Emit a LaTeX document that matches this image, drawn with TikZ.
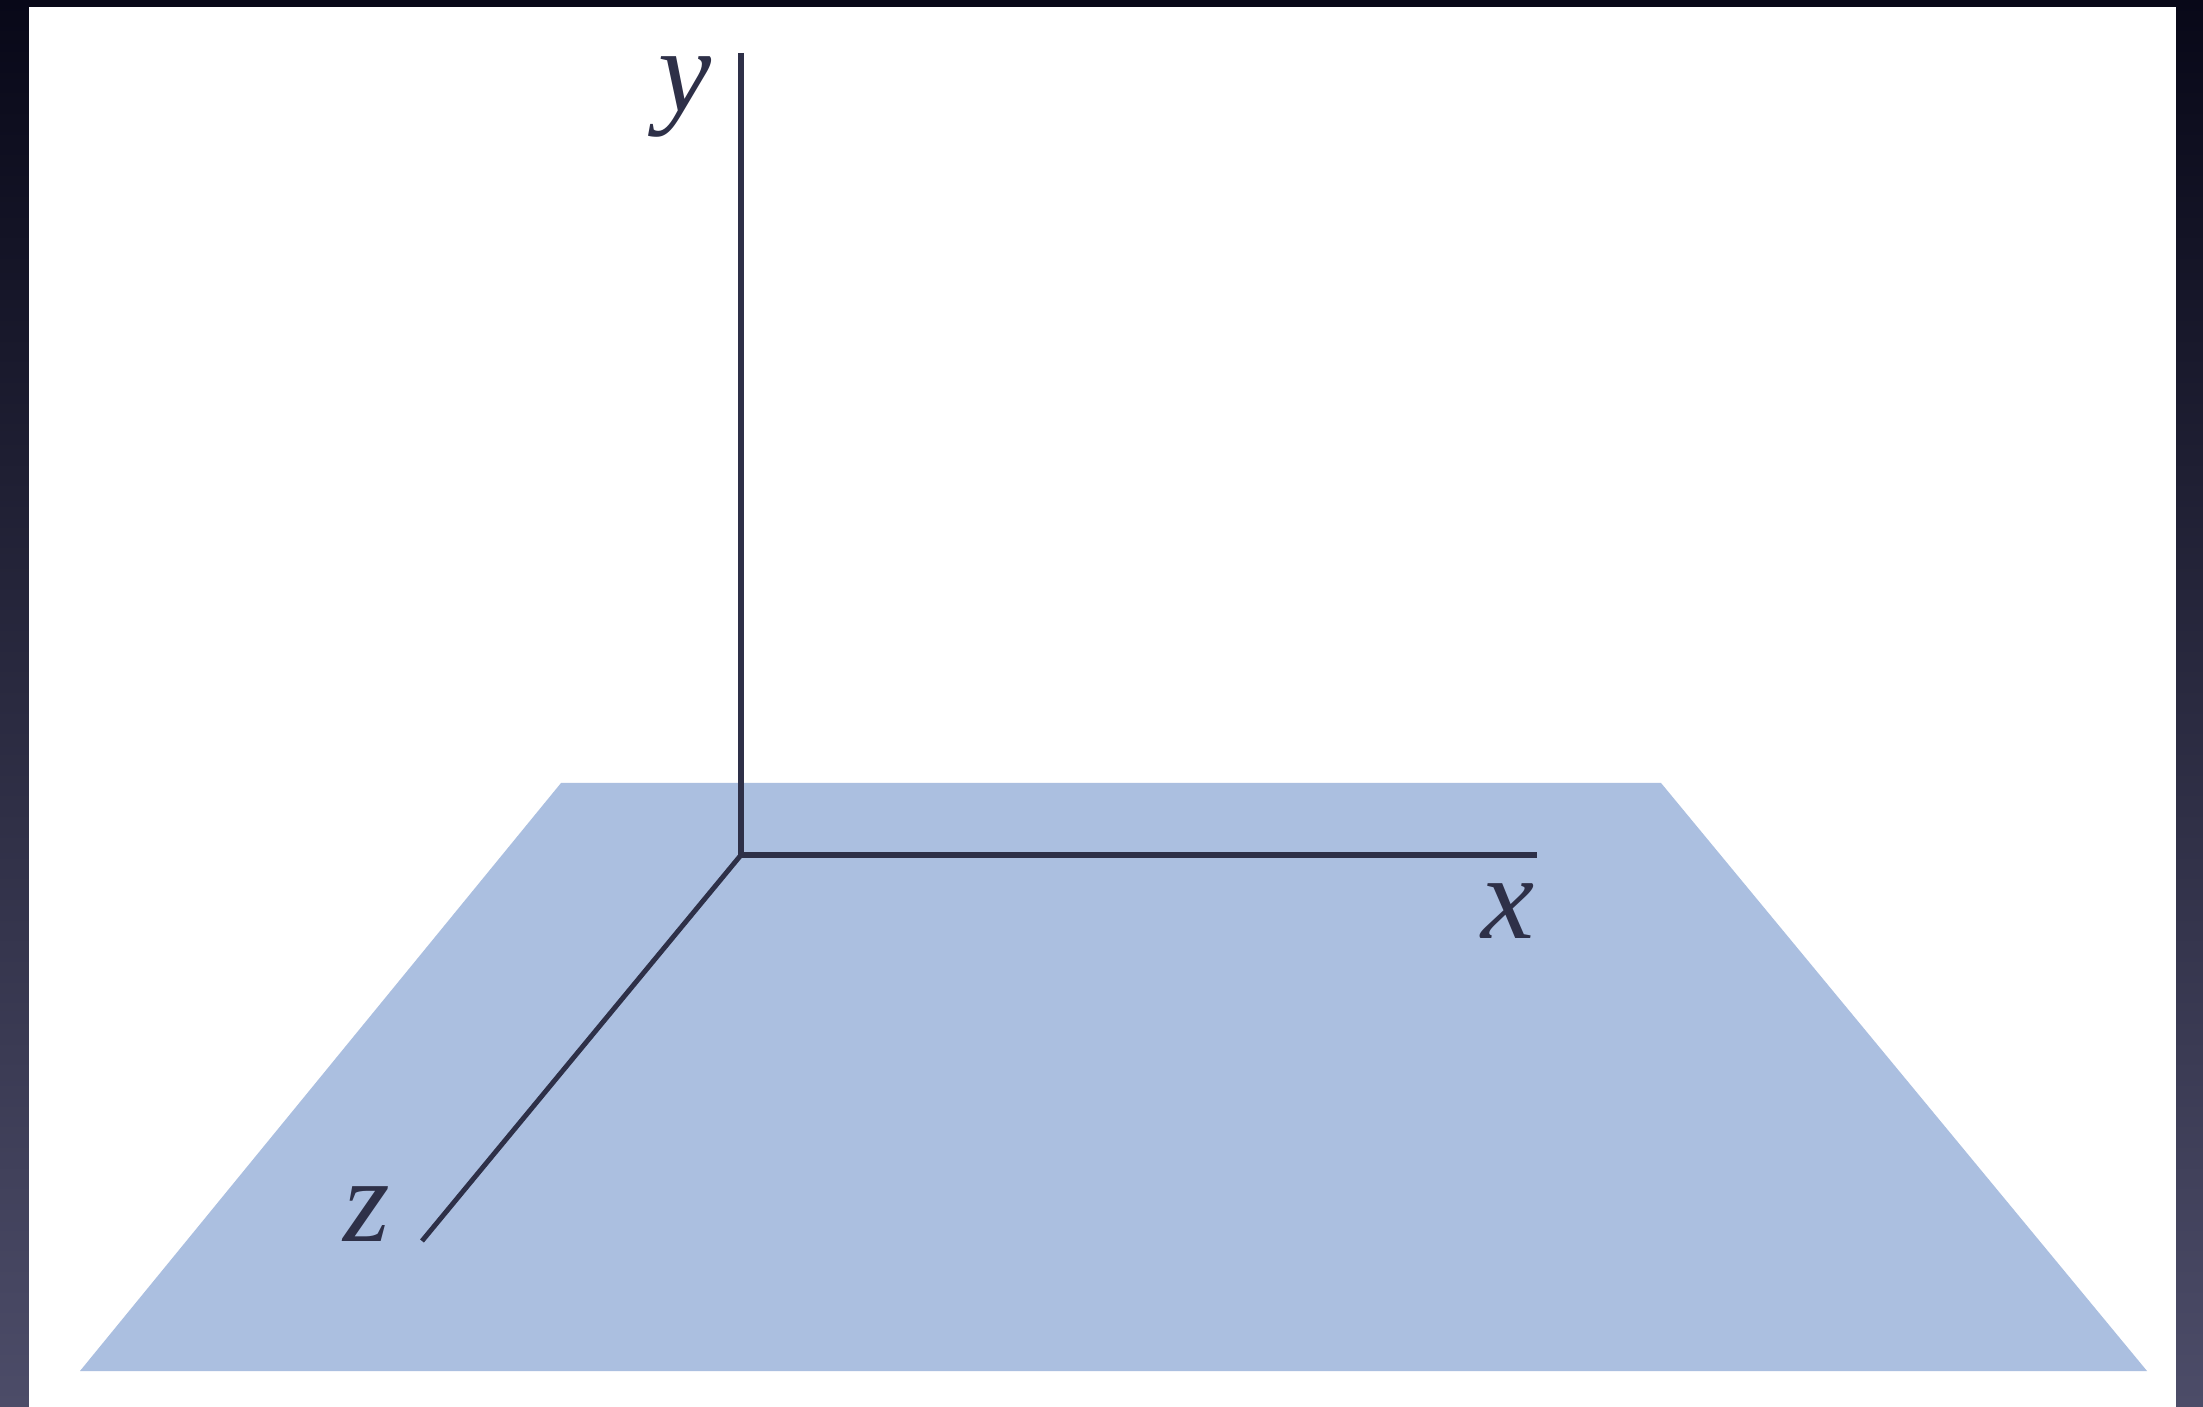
\documentclass[tikz,border=0pt]{standalone}
\usepackage{fontspec}
\setmainfont{Liberation Serif}
\definecolor{planeblue}{HTML}{ABBFE0}
\definecolor{axiscol}{HTML}{2E3048}
\definecolor{frametop}{HTML}{080818}
\definecolor{framebot}{HTML}{4C4C68}
\tikzset{
  axisline/.style={draw=axiscol, line width=1.9pt},
  zline/.style={draw=axiscol, line width=1.4pt},
  axlabel/.style={inner sep=0pt, text=axiscol, font=\fontsize{34}{40}\selectfont\itshape},
}
\begin{document}
\begin{tikzpicture}
\useasboundingbox (0,0) rectangle (22.03,14.06);
% dark frame
\shade[top color=frametop, bottom color=framebot] (0,0) rectangle (22.03,14.06);
\fill[white] (0.29,-0.05) rectangle (21.76,13.99);
% plane
\coordinate (ptl) at (5.61,6.23);
\coordinate (ptr) at (16.61,6.23);
\coordinate (pbr) at (21.47,0.35);
\coordinate (pbl) at (0.80,0.35);
\fill[planeblue] (ptl) -- (ptr) -- (pbr) -- (pbl) -- cycle;
% axes
\coordinate (O) at (7.41,5.51);
\coordinate (Y) at (7.41,13.53);
\coordinate (X) at (15.37,5.51);
\coordinate (Z) at (4.22,1.65);
\draw[axisline] (Y) -- (O) -- (X);
\draw[zline] (O) -- (Z);
% labels
\node[axlabel] (ylab) at (6.85,13.09) {y};
\node[axlabel] (xlab) at (15.08,4.95) {x};
\node[axlabel] (zlab) at (3.67,1.92) {z};
\end{tikzpicture}
\end{document}
